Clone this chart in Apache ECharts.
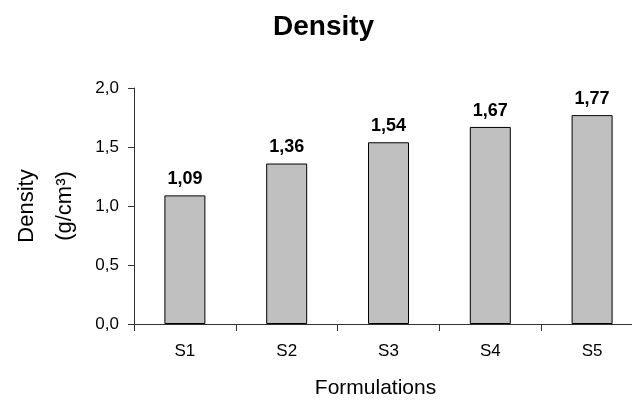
<!DOCTYPE html>
<html>
<head>
<meta charset="utf-8">
<script src="https://cdn.jsdelivr.net/npm/echarts@6/dist/echarts.min.js"></script>
<style>
    html, body { margin: 0; padding: 0; background: #fff; }
    #chart { width: 632px; height: 403px; }
</style>
</head>
<body>
<div id="chart"></div>
<script>
var categories = ['S1', 'S2', 'S3', 'S4', 'S5'];
var density = [1.09, 1.36, 1.54, 1.67, 1.77];
var yTicks = [0, 0.5, 1.0, 1.5, 2.0];

var font = 'Liberation Sans, Arial, sans-serif';

function comma(v, d) {
    return v.toFixed(d).replace('.', ',');
}

var chart = echarts.init(document.getElementById('chart'));

var option = {
    animation: false,
    backgroundColor: '#fff',
    title: {
        text: 'Density',
        left: 268,
        top: 8,
        textStyle: {
            fontFamily: font,
            fontSize: 28,
            fontWeight: 'bold',
            color: '#000'
        }
    },
    grid: {
        left: 134,
        top: 88,
        width: 509,
        bottom: 79,
        outerBoundsMode: 'none',
        containLabel: false
    },
    xAxis: {
        type: 'category',
        data: categories,
        name: 'Formulations',
        nameLocation: 'middle',
        nameGap: 54,
        nameTextStyle: {
            fontFamily: font,
            fontSize: 21,
            color: '#000',
            padding: [0, 26, 0, 0]
        },
        axisLine: { lineStyle: { color: '#333', width: 1 } },
        axisTick: { show: true, length: 7, lineStyle: { color: '#333' } },
        axisLabel: {
            margin: 19,
            fontFamily: font,
            fontSize: 17,
            color: '#000'
        }
    },
    yAxis: {
        type: 'value',
        min: yTicks[0],
        max: yTicks[yTicks.length - 1],
        interval: 0.5,
        name: 'Density\n(g/cm³)',
        nameLocation: 'middle',
        nameRotate: 90,
        nameGap: 50,
        nameTextStyle: {
            fontFamily: font,
            fontSize: 22,
            lineHeight: 38,
            color: '#000'
        },
        splitLine: { show: false },
        axisLine: { show: true, lineStyle: { color: '#333', width: 1 } },
        axisTick: { show: true, length: 6, lineStyle: { color: '#333' } },
        axisLabel: {
            margin: 15,
            fontFamily: font,
            fontSize: 17,
            color: '#000',
            formatter: function (v) { return comma(v, 1); }
        }
    },
    series: [{
        type: 'bar',
        data: density,
        barWidth: 41,
        itemStyle: {
            color: '#c0c0c0',
            borderColor: '#000',
            borderWidth: 1
        },
        label: {
            show: true,
            position: 'top',
            distance: 7,
            fontFamily: font,
            fontSize: 18,
            fontWeight: 'bold',
            color: '#000',
            formatter: function (p) { return comma(p.value, 2); }
        }
    }]
};

chart.setOption(option);
</script>
</body>
</html>
